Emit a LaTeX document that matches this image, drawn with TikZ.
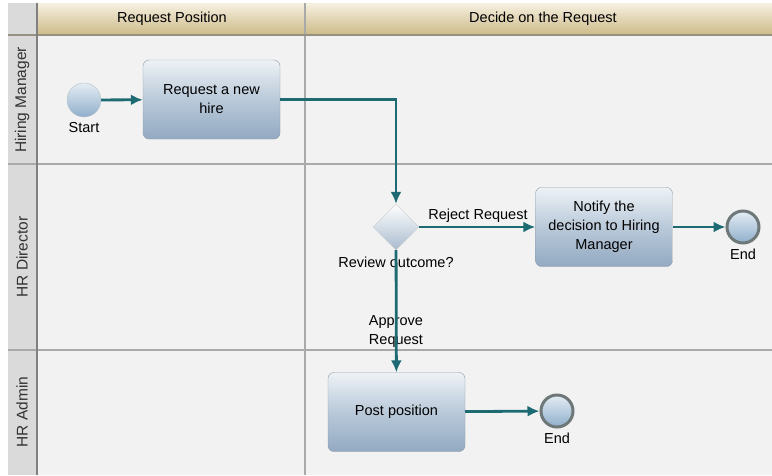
\documentclass[tikz,border=0pt]{standalone}
\usepackage{fontspec}
\setmainfont{Liberation Sans}
\usetikzlibrary{shapes.geometric,arrows.meta,positioning}
\definecolor{flow}{HTML}{1E6A73}
\definecolor{lanebg}{HTML}{F2F2F2}
\definecolor{lanehead}{HTML}{DADADA}
\definecolor{laneline}{HTML}{A9A9A9}
\definecolor{goldtop}{HTML}{F6F0E0}
\definecolor{goldbot}{HTML}{CDBA88}
\definecolor{tasktop}{HTML}{EEF2F6}
\definecolor{taskmid}{HTML}{B9C9D9}
\definecolor{taskbot}{HTML}{93AAC2}
\definecolor{taskrim}{HTML}{8E9BA8}
\definecolor{evtop}{HTML}{E4EDF4}
\definecolor{evbot}{HTML}{8FAECB}
\definecolor{endrim}{HTML}{6E7878}

\begin{document}
\begin{tikzpicture}[x=1pt,y=-1pt,>={Latex[length=12pt,width=11pt]},
	font=\fontsize{14.5}{19}\selectfont]
\tikzset{
	task/.style={draw=taskrim,rounded corners=6pt,top color=tasktop,
		bottom color=taskbot,middle color=taskmid,align=center,
		minimum width=137pt,minimum height=79pt,inner sep=2pt},
	event/.style={circle,draw=taskrim!60,inner sep=0pt,minimum size=34pt,
		top color=evtop,bottom color=evbot},
	endevent/.style={event,draw=endrim,line width=3pt,minimum size=32pt},
	gate/.style={diamond,draw=gray!40,inner sep=0pt,minimum width=46pt,
		minimum height=46pt,top color=white,bottom color=taskbot!80},
	flowline/.style={draw=flow,line width=2.8pt,->},
	lanetext/.style={rotate=90,text=black!80,font=\fontsize{15.5}{19}\selectfont}
}
\useasboundingbox (0,0) rectangle (772,475);
% pool and lanes
\fill[lanebg] (37,35) rectangle (772,475);
\shade[top color=goldtop,bottom color=goldbot] (37,3) rectangle (772,35);
\fill[lanehead] (8,3) rectangle (37,475);
\draw[laneline,line width=1.5pt] (305,3) -- (305,475);
\draw[laneline,line width=2pt] (8,164) -- (772,164);
\draw[laneline,line width=2pt] (8,350) -- (772,350);
\draw[gray!70!goldbot,line width=1.5pt] (8,35) -- (772,35);
\draw[gray,line width=1.2pt] (37,3) -- (37,475);
\node (colreq) at (172,19) {Request Position};
\node (coldec) at (543,19) {Decide on the Request};
\node[lanetext] (lanehm) at (22,100) {Hiring Manager};
\node[lanetext] (lanedir) at (22,257) {HR Director};
\node[lanetext] (laneadm) at (22,412) {HR Admin};

% flow nodes
\node[event] (start) at (84,100) {};
\node (starttxt) [below=2pt of start] {Start};
\node[task] (req) at (211.5,99.5) {Request a new\\hire};
\node[gate] (gate) at (396,227) {};
\node (gatetxt) [below=3pt of gate] {Review outcome?};
\node[task] (notify) at (604,227) {Notify the\\decision to Hiring\\Manager};
\node[endevent] (end1) at (743,227) {};
\node (end1txt) [below=1pt of end1] {End};
\node[task] (post) at (396.5,412) {Post position};
\node[endevent] (end2) at (557,411) {};
\node (end2txt) [below=1pt of end2] {End};
\node (rejtxt) at (478,216) {Reject Request};
\node[align=center] (apptxt) at (396,332) {Approve\\Request};

% connectors
\draw[flowline] (start) -- (req);
\draw[flowline] (req.east) -| (gate.north);
\draw[flowline] (gate) -- (notify);
\draw[flowline] (notify) -- (end1);
\draw[flowline] (gate) -- (post);
\draw[flowline] (post) -- (end2);
\end{tikzpicture}
\end{document}
